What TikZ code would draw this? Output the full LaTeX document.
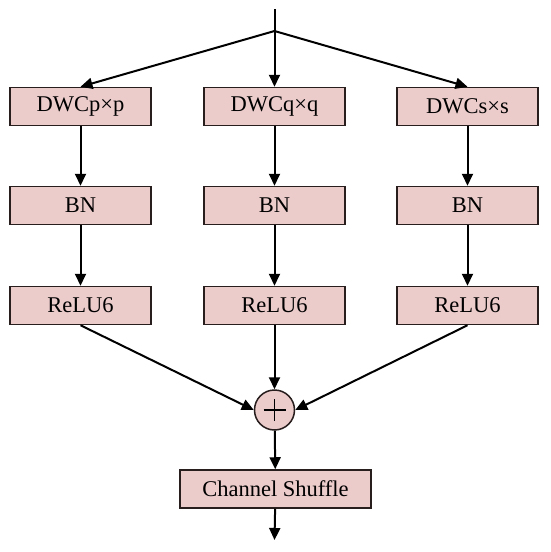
\documentclass[tikz,border=0pt]{standalone}
\usepackage{fontspec}
\setmainfont{Liberation Serif}
\usetikzlibrary{arrows.meta}
\definecolor{boxfill}{RGB}{236,203,203}
\definecolor{boxline}{RGB}{40,30,30}
\begin{document}
\begin{tikzpicture}[x=1pt,y=-1pt,
  blk/.style={draw=boxline,fill=boxfill,line width=1.5pt,minimum width=141pt,minimum height=38pt,inner sep=0pt,font=\fontsize{22.5}{26}\selectfont},
  conn/.style={line width=2pt,-{Triangle[length=12pt,width=11pt]}},
  plain/.style={line width=2pt}]
\useasboundingbox (0,0) rectangle (550,552);
\node[blk] (d1) at (80.5,106.5) {DWCp×p};
\node[blk] (d2) at (274.5,106.5) {DWCq×q};
\node[blk] (d3) at (467.5,106.5) {DWCs×s};
\node[blk] (b1) at (80.5,205.5) {BN};
\node[blk] (b2) at (274.5,205.5) {BN};
\node[blk] (b3) at (467.5,205.5) {BN};
\node[blk] (r1) at (80.5,305.5) {ReLU6};
\node[blk] (r2) at (274.5,305.5) {ReLU6};
\node[blk] (r3) at (467.5,305.5) {ReLU6};
\node[circle,draw=boxline,fill=boxfill,line width=1.5pt,minimum size=40pt,inner sep=0pt] (p) at (274.5,410) {};
\draw[line width=1.3pt] ([xshift=-11pt]p.center) -- ([xshift=11pt]p.center) ([yshift=-11pt]p.center) -- ([yshift=11pt]p.center);
\node[blk,minimum width=191pt] (cs) at (275.5,489) {Channel Shuffle};
\coordinate (top) at (274.5,9);
\coordinate (split) at (274.5,31);
\coordinate (out) at (274.5,540);
\draw[plain] (top) -- (split);
\draw[conn] (split) -- (d1.north);
\draw[conn] (split) -- (d2.north);
\draw[conn] (split) -- (d3.north);
\draw[conn] (d1) -- (b1);
\draw[conn] (d2) -- (b2);
\draw[conn] (d3) -- (b3);
\draw[conn] (b1) -- (r1);
\draw[conn] (b2) -- (r2);
\draw[conn] (b3) -- (r3);
\draw[conn] (r1.south) -- (p.west);
\draw[conn] (r2.south) -- (p.north);
\draw[conn] (r3.south) -- (p.east);
\draw[conn] (p) -- (cs);
\draw[conn] (cs) -- (out);
\end{tikzpicture}
\end{document}
